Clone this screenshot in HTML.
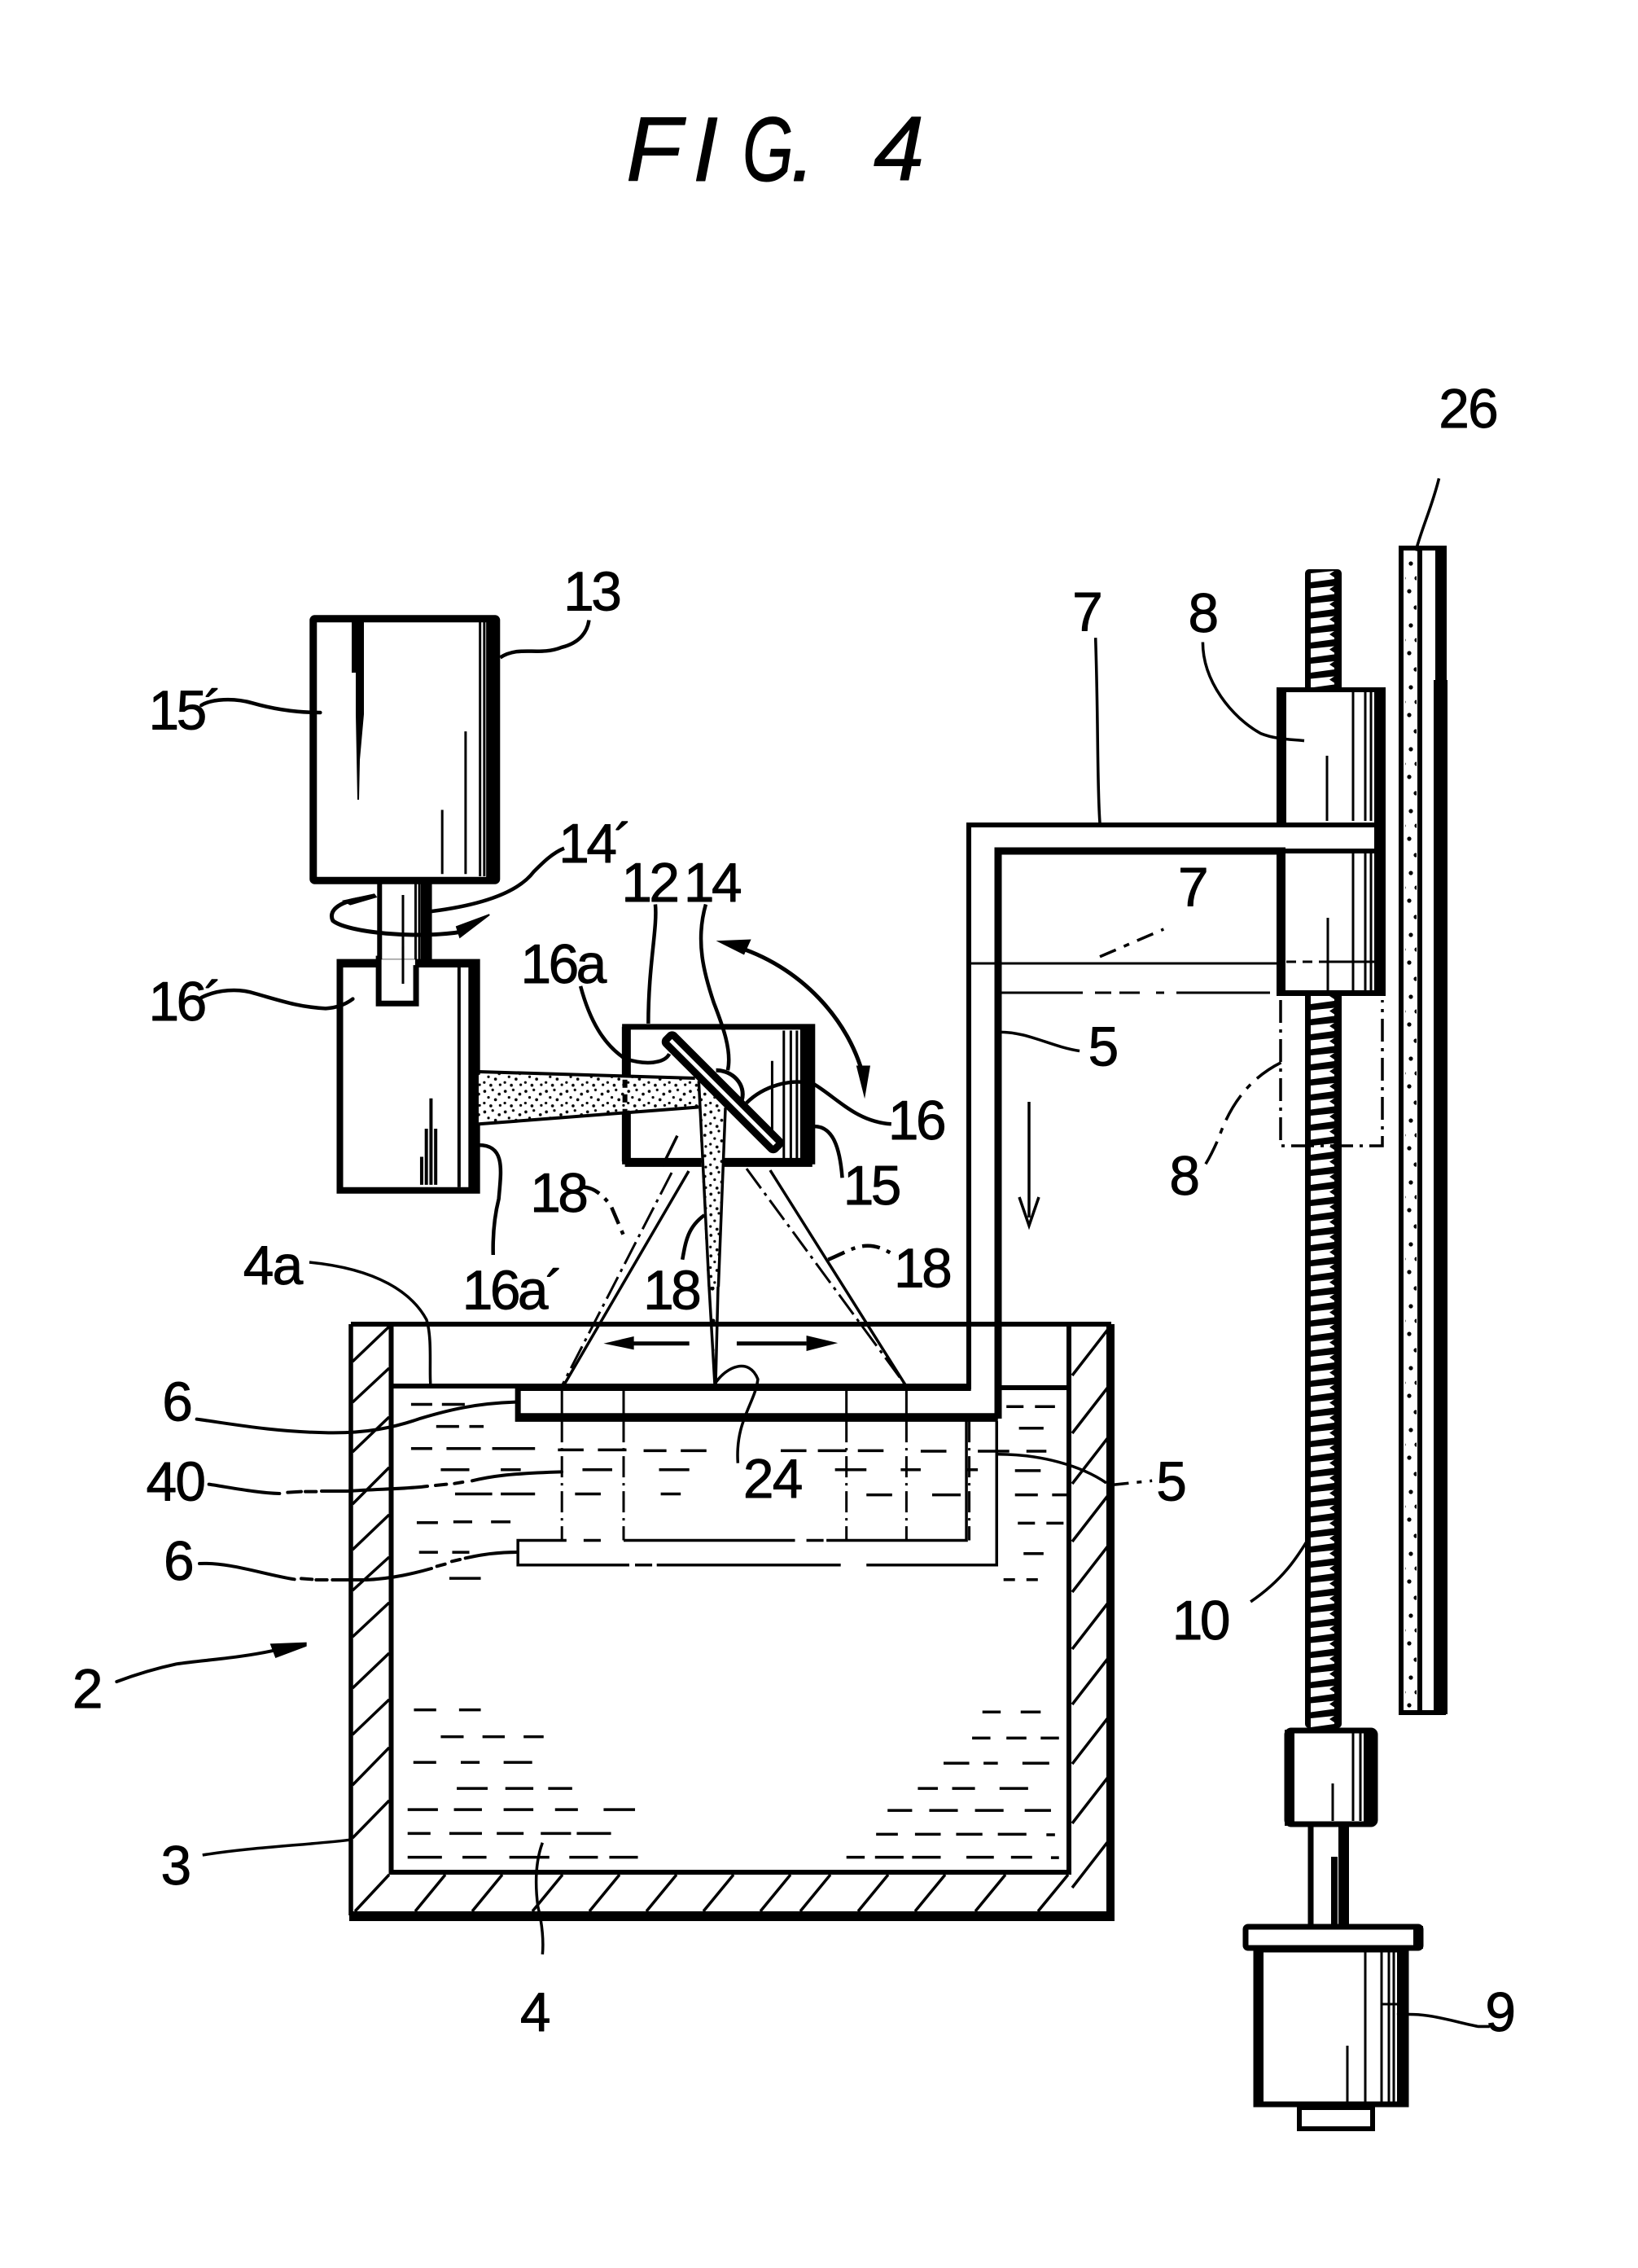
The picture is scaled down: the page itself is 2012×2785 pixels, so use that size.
<!DOCTYPE html>
<html><head><meta charset="utf-8"><title>FIG. 4</title>
<style>
html,body{margin:0;padding:0;background:#fff;width:2012px;height:2785px;overflow:hidden}
svg{display:block}
.z *{vector-effect:non-scaling-stroke}
.t text{font-family:"Liberation Sans",sans-serif;font-size:38px;text-anchor:middle;fill:#000;stroke:#000;stroke-width:.5px;stroke-linejoin:round;letter-spacing:-1px}
.t text.n{letter-spacing:-2px}
.f{font-family:"Liberation Sans",sans-serif;font-style:italic;font-size:112px;fill:#000;stroke:#000;stroke-width:1px;stroke-linejoin:round}
</style></head><body>
<svg width="2012" height="2785" viewBox="0 0 2012 2785" xmlns="http://www.w3.org/2000/svg">
<defs>
<pattern id="dots" width="44" height="44" patternUnits="userSpaceOnUse">
<circle cx="5" cy="6" r="3.2"/><circle cx="22" cy="3" r="2.8"/><circle cx="36" cy="12" r="3.2"/><circle cx="13" cy="19" r="2.8"/><circle cx="28" cy="24" r="3.2"/><circle cx="4" cy="31" r="2.8"/><circle cx="18" cy="37" r="3.2"/><circle cx="38" cy="36" r="2.8"/>
</pattern>
<pattern id="dots2" width="16" height="76" patternUnits="userSpaceOnUse">
<circle cx="5" cy="8" r="2.6"/><circle cx="12" cy="26" r="2.6"/><circle cx="3" cy="42" r="2.6"/><circle cx="11" cy="62" r="2.6"/>
</pattern>
<pattern id="thr" x="1603" y="700" width="45" height="18.5" patternUnits="userSpaceOnUse">
<rect width="45" height="18.5" fill="#000"/>
<polygon points="7,4 36,1 30,5 36,9 36,11 7,15" fill="#fff"/>
</pattern>
</defs>
<rect width="2012" height="2785" fill="#fff"/>

<!-- title -->
<text class="f" x="769" y="222">F</text>
<text class="f" x="851" y="222">I</text>
<text class="f" transform="translate(912 222) scale(.72 1)">G</text>
<text class="f" x="971" y="222">.</text>
<text class="f" x="1073" y="221">4</text>

<!-- screw -->
<rect x="1603" y="699" width="45" height="1423" rx="5" fill="url(#thr)"/>

<!-- tank, root px -->
<g fill="none" stroke="#000">
<path d="M431 1626H1365" stroke-width="6"/>
<path d="M431 1626V2352" stroke-width="5.5"/>
<path d="M1364 1626V2356" stroke-width="10"/>
<path d="M429 2353H1369" stroke-width="12"/>
<path d="M480.5 1626V2299H1313V1626" stroke-width="6"/>
<path d="M480 1702H1190M1226 1704H1313" stroke-width="6"/>
<g stroke-width="3.5">
<path d="M433 1672L478 1629M433 1722L478 1680M433 1783L478 1740M433 1847L478 1802M433 1903L478 1860M433 1953L478 1912M433 2010L478 1968M433 2073L478 2030M433 2130L478 2087M433 2192L478 2146M433 2257L478 2211"/>
<path d="M1362 1631L1317 1689M1362 1702L1317 1760M1362 1764L1317 1822M1362 1835L1317 1893M1362 1897L1317 1955M1362 1967L1317 2025M1362 2035L1317 2093M1362 2108L1317 2166M1362 2181L1317 2239M1362 2260L1317 2318"/>
<path d="M436 2347L478 2302M510 2347L547 2302M580 2347L617 2302M654 2347L691 2302M724 2347L761 2302M794 2347L831 2302M864 2347L901 2302M934 2347L971 2302M983 2347L1020 2302M1054 2347L1091 2302M1124 2347L1161 2302M1198 2347L1235 2302M1275 2347L1312 2302"/>
</g>
</g>

<!-- zoom-2 space: tank contents -->
<g class="z" transform="translate(380 1550) scale(.7018 .542)" fill="none" stroke="#000" stroke-width="3.5">
<path d="M178 322h37M232 322h40M1220 327h30M1270 327h35M222 372h40M280 372h25M1242 376h43M178 422h37M240 422h60M320 422h75M435 425h45M505 425h50M585 427h40M650 427h45M825 427h45M890 427h50M960 427h45M1070 428h45M1170 428h55M1255 428h35M230 470h50M335 470h35M478 470h52M612 470h53M920 470h55M1035 470h35M1150 470h20M1235 472h45M255 525h65M335 525h60M465 525h45M615 525h35M975 527h45M1090 527h50M1235 527h40M1300 527h30M188 590h37M252 588h33M318 588h34M1240 591h30M1290 591h30M192 657h33M250 657h30M1250 660h35M245 716h55M1215 719h20M1255 719h20"/>
<path d="M183 1014h39M262 1014h38M1178 1019h32M1245 1019h35M230 1075h40M303 1075h39M375 1075h35M1160 1078h32M1220 1078h35M1280 1078h32M182 1133h40M265 1133h33M340 1133h50M1110 1135h45M1180 1135h25M1248 1135h47M258 1192h54M343 1192h49M418 1192h42M1065 1192h35M1125 1192h40M1208 1192h50M172 1240h53M253 1240h49M340 1240h52M430 1240h40M515 1240h55M1012 1242h43M1085 1242h50M1165 1242h50M1252 1242h46M172 1294h40M245 1294h57M328 1294h47M405 1294h53M468 1294h60M992 1296h38M1060 1296h45M1132 1296h46M1205 1296h50M1290 1297h15M172 1348h60M268 1348h42M350 1348h70M455 1348h50M525 1348h50M940 1348h32M990 1348h50M1055 1348h50M1150 1348h48M1228 1348h37M1298 1349h14"/>
<!-- ghost platform -->
<path d="M365 655V630H450M480 630H510M550 630H850M870 630H900M905 630H1150V360" stroke-width="3.5"/>
<path d="M365 655V686H560M570 686H600M608 686H930M975 686H1203V360" stroke-width="3.5"/>
<path d="M442 360V630M550 360V630M940 360V630M1045 360V630M1155 360V630" stroke-width="3" stroke-dasharray="26 7 3 7"/>
<path d="M442 285V345M550 285V345M940 285V345M1045 285V345" stroke-width="3"/>
<!-- platform -->
<path d="M365 285V355H1205" stroke-width="7"/>
<path d="M365 285H1158" stroke-width="7"/>
<path d="M366 350H1205" stroke-width="9"/>
<!-- arrows -->
<path d="M565 184H665M748 184H870" stroke-width="5"/>
<path d="M515 184L568 168V198Z" fill="#000" stroke="none"/>
<path d="M925 183L870 166V201Z" fill="#000" stroke="none"/>
<!-- leaders -->
<path d="M0 0C120 15 180 70 205 130C215 170 210 240 212 275M408 1315C395 1360 395 1410 400 1460C408 1500 410 1540 408 1568M710 275C730 235 770 215 785 265C780 320 745 360 750 455M1205 435C1280 435 1350 460 1395 500M-187 1343C-100 1325 0 1320 75 1308" stroke-width="3.5"/>
<path d="M1400 505L1475 495" stroke-width="3.5" stroke-dasharray="24 10 6 10"/>
</g>

<!-- left leader group, 3x zoom space -->
<g class="z" transform="translate(150 1650) scale(.33333)" fill="none" stroke="#000" stroke-width="4" stroke-linecap="round">
<path d="M275 278C400 295 560 325 760 328C900 330 1000 310 1100 275C1200 245 1300 220 1450 215"/>
<path d="M320 518C400 530 500 550 580 552M610 548L660 545M675 545H715M735 543H830C950 535 1050 535 1125 525M1155 522L1195 518M1225 515L1255 510M1290 505C1350 490 1420 478 1620 472"/>
<path d="M285 810C400 805 520 850 635 868M660 865L700 868M715 870L755 870M775 870H900C1000 865 1080 845 1140 828M1160 820L1190 812M1215 802L1245 795M1265 790C1330 775 1400 768 1455 768"/>
<path d="M-20 1245C60 1215 130 1195 200 1180C300 1165 420 1160 560 1130"/>
<path d="M545 1105L680 1100V1115L565 1158Z" fill="#000" stroke="none"/>
</g>

<!-- arm 5 / 7 -->
<path d="M1190 1706V1013H1700" fill="none" stroke="#000" stroke-width="6"/>
<path d="M1226 1742V1045H1690" fill="none" stroke="#000" stroke-width="9"/>
<path d="M1190 1183H1568M1190 1183V1220" fill="none" stroke="#000" stroke-width="3"/>
<path d="M1226 1219H1330M1345 1219H1365M1375 1219H1400M1420 1219H1430M1445 1219H1560" fill="none" stroke="#000" stroke-width="3"/>
<path d="M1264 1353V1495M1252 1470L1264 1505L1276 1470" fill="none" stroke="#000" stroke-width="3.5"/>

<!-- left parts zoom-1 space -->
<g class="z" transform="translate(340 680) scale(.574)" stroke="#000" fill="none">
<!-- shaft -->
<rect x="220" y="702" width="108" height="170" fill="#fff" stroke="none"/>
<path d="M220 702V872" stroke-width="6"/>
<path d="M297 702V872M305 702V872" stroke-width="3"/>
<rect x="308" y="702" width="24" height="170" fill="#000" stroke="none"/>
<path d="M270 730V890" stroke-width="3"/>
<!-- box 13 -->
<rect x="78" y="139" width="392" height="560" rx="3" fill="#fff" stroke-width="9"/>
<rect x="448" y="140" width="26" height="556" fill="#000" stroke="none"/>
<path d="M435 145V690M444 145V690" stroke-width="3"/>
<path d="M404 380V685M354 548V685" stroke-width="3"/>
<!-- box 16' -->
<rect x="135" y="874" width="293" height="488" fill="#fff" stroke-width="8"/>
<path d="M390 880V1355" stroke-width="4"/>
<rect x="410" y="874" width="22" height="492" fill="#000" stroke="none"/>
<path d="M330 1165V1350M320 1230V1350M340 1230V1350M310 1290V1350" stroke-width="4"/>
<rect x="218" y="868" width="78" height="94" fill="#fff" stroke="none"/>
<path d="M218 860V962H298V880" stroke-width="7"/>
<path d="M218 878H135M298 878H428" stroke-width="8"/>
<path d="M270 840V920" stroke-width="3"/>
<!-- rotation arrow -->
<path d="M180 738C130 745 110 765 120 785C150 810 300 825 400 808" stroke-width="5"/>
<path d="M139 742L209 727L215 735L157 752Z" fill="#000" stroke="none"/>
<path d="M385 798L455 772L392 820Z" fill="#000" stroke="#000" stroke-width="2"/>
<!-- box 15 -->
<rect x="747" y="1014" width="398" height="288" fill="#fff" stroke="none"/>
<path d="M745 1012H1146V1300H745Z" stroke-width="7"/>
<path d="M745 1302H1146" stroke-width="11"/>
<path d="M748 1012V1300" stroke-width="11"/>
<rect x="1120" y="1012" width="28" height="292" fill="#000" stroke="none"/>
<path d="M1085 1020V1295M1100 1020V1295M1113 1020V1295" stroke-width="3"/>
<path d="M1060 1085V1240" stroke-width="3"/>
<!-- beam -->
<polygon points="432,1108 900,1125 945,1180 432,1220" fill="#fff" stroke="none"/>
<polygon points="432,1108 900,1125 945,1180 432,1220" fill="url(#dots)" stroke="none"/>
<path d="M432 1108L895 1122M432 1220L950 1180" stroke-width="4"/>
<path d="M745 1125V1195" stroke-width="6" stroke-dasharray="10 8"/>
<!-- bowl 14 -->
<path d="M940 1105C975 1105 1005 1135 995 1170" fill="#fff" stroke-width="5"/>
<!-- down beam -->
<polygon points="900,1128 960,1185 945,1568 922,1568" fill="#fff" stroke="none"/>
<polygon points="900,1128 960,1185 945,1568 922,1568" fill="url(#dots)" stroke="none"/>
<path d="M903 1128L925 1568M960 1185L945 1568" stroke-width="3.5"/>
<!-- mirror -->
<g transform="rotate(45 952 1150)">
<rect x="790" y="1138" width="330" height="24" rx="6" fill="#fff" stroke-width="9"/>
</g>
<!-- 18 -->
<path d="M857 1245L825 1310" stroke-width="3.5"/>
<!-- swing -->
<path d="M975 838C1120 880 1230 1000 1258 1130" stroke-width="5"/>
<path d="M940 828L1015 825L1000 858Z" fill="#000" stroke="none"/>
<path d="M1258 1166L1240 1095L1270 1095Z" fill="#000" stroke="none"/>
<!-- leaders -->
<path d="M478 222C520 195 560 220 610 200C650 190 665 165 668 142M330 765C450 750 520 720 550 680C570 660 590 640 615 630M810 750C815 800 795 880 795 1005M918 750C895 830 915 900 935 960C950 1000 975 1060 965 1105M650 925C670 1000 700 1050 745 1080C790 1095 830 1090 840 1070M1005 1175C1040 1140 1100 1120 1150 1135C1200 1165 1240 1215 1315 1220M1150 1225C1190 1225 1205 1270 1210 1335M432 1265C490 1265 480 1320 475 1380C465 1420 462 1460 463 1500M915 1415C880 1440 875 1470 868 1510" stroke-width="4.5"/>
<path d="M655 1355C680 1355 700 1375 715 1395L745 1465M1180 1510C1230 1490 1260 1460 1320 1500" stroke-width="4.5" stroke-dasharray="22 9 5 9"/>
</g>

<!-- wedge in box 13 -->
<polygon points="432,763 447,763 447,877 442,933 441,982 439,982 437,877 437,826 432,826" fill="#000"/>

<!-- 15', 16' leaders -->
<g class="z" transform="translate(160 800) scale(.33333)" fill="none" stroke="#000" stroke-width="4.5" stroke-linecap="round">
<path d="M262 198C300 175 380 170 450 190C520 210 600 225 700 225"/>
<path d="M262 1275C320 1245 400 1240 460 1260C550 1285 620 1310 720 1315C770 1312 800 1295 820 1280"/>
</g>

<!-- 18 ray lines real px -->
<g fill="none" stroke="#000">
<path d="M846 1438L692 1702M1113 1702L946 1437" stroke-width="3.5"/>
<path d="M825 1440L690 1702M917 1435L1113 1702" stroke-width="3" stroke-dasharray="30 7 4 7"/>
<path d="M871 1580L878 1700M882 1580L879 1700" stroke-width="3.5"/>
</g>
<polygon points="871,1580 882,1580 879,1700" fill="url(#dots2)"/>

<!-- bar 26 -->
<rect x="1721" y="673" width="52" height="1430" fill="#fff" stroke="#000" stroke-width="6"/>
<rect x="1726" y="680" width="14" height="1420" fill="url(#dots2)"/>
<rect x="1741" y="675" width="6" height="1428" fill="#000"/>
<rect x="1761" y="835" width="17" height="1270" fill="#000"/>
<rect x="1763" y="670" width="14" height="167" fill="#000"/>

<!-- nut 8 -->
<rect x="1568" y="844" width="134" height="166" fill="#fff" stroke="none"/>
<rect x="1568" y="1048" width="134" height="174" fill="#fff" stroke="none"/>
<g fill="#000">
<rect x="1568" y="844" width="12" height="166"/><rect x="1568" y="1048" width="11" height="174"/>
<rect x="1688" y="844" width="14" height="378"/>
<rect x="1568" y="844" width="134" height="6"/><rect x="1568" y="1216" width="134" height="7"/>
</g>
<g fill="none" stroke="#000">
<path d="M1630 928V1008M1631 1127V1216M1662 850V1008M1662 1048V1216M1677 850V1008M1677 1048V1216M1684 850V1008M1684 1048V1216" stroke-width="3"/>
<path d="M1580 1181H1592M1600 1181H1612M1620 1181H1688" stroke-width="3"/>
</g>
<rect x="1579" y="1016" width="109" height="26" fill="#fff"/>
<!-- ghost nut -->
<path d="M1573 1228V1407H1698V1228" fill="none" stroke="#000" stroke-width="3.5" stroke-dasharray="28 8 4 8"/>

<!-- bottom coupling/motor -->
<path d="M1610 2243V2363" stroke="#000" stroke-width="7" fill="none"/>
<rect x="1635" y="2280" width="8" height="83" fill="#000"/>
<rect x="1644" y="2243" width="13" height="120" fill="#000"/>
<rect x="1581" y="2125" width="108" height="115" rx="5" fill="#fff" stroke="#000" stroke-width="7"/>
<rect x="1578" y="2124" width="12" height="118" fill="#000"/>
<rect x="1675" y="2128" width="16" height="112" fill="#000"/>
<path d="M1662 2128V2236M1671 2128V2236M1637 2190V2236" stroke="#000" stroke-width="3" fill="none"/>
<rect x="1530" y="2366" width="215" height="26" rx="3" fill="#fff" stroke="#000" stroke-width="7"/>
<rect x="1736" y="2365" width="12" height="28" fill="#000"/>
<rect x="1543" y="2394" width="184" height="190" fill="#fff" stroke="#000" stroke-width="7"/>
<rect x="1540" y="2394" width="12" height="192" fill="#000"/>
<rect x="1716" y="2394" width="14" height="192" fill="#000"/>
<path d="M1677 2394V2582M1697 2394V2582M1706 2394V2582M1712 2394V2582M1655 2512V2582" stroke="#000" stroke-width="3" fill="none"/>
<rect x="1596" y="2588" width="90" height="26" fill="#fff" stroke="#000" stroke-width="6"/>
<path d="M1697 2461H1720" stroke="#000" stroke-width="3"/>

<!-- right-hand leaders in thumb coords -->
<g transform="scale(1.78)" fill="none" stroke="#000" stroke-width="2">
<path d="M993 330C988 350 982 362 977 380"/>
<path d="M756 440C758 500 757 540 759 568"/>
<path d="M690 712C710 712 725 722 745 725"/>
<path d="M863 1105C885 1090 895 1075 905 1058"/>
<path d="M964 1390C985 1388 1000 1394 1020 1398H1028"/>
<path d="M830 443C830 470 850 495 870 506C880 510 890 510 900 511"/>
<path d="M759 660L803 641" stroke-dasharray="12 6 4 6"/>
<path d="M884 733C860 745 848 765 841 785C838 792 835 798 832 803" stroke-dasharray="20 6 4 6"/>
</g>

<!-- labels -->
<g class="t" transform="translate(0 -3.5) scale(1.78)">
<text x="1013" y="297">26</text>
<text class="n" x="408" y="423">13</text>
<text class="n" x="127" y="505">15´</text>
<text class="n" x="410" y="597">14´</text>
<text class="n" x="448" y="624">12</text>
<text class="n" x="491" y="624">14</text>
<text class="n" x="388" y="680">16a</text>
<text class="n" x="127" y="706">16´</text>
<text x="750" y="437">7</text>
<text x="830" y="438">8</text>
<text x="823" y="627">7</text>
<text x="761" y="737">5</text>
<text class="n" x="632" y="788">16</text>
<text class="n" x="601" y="833">15</text>
<text class="n" x="385" y="838">18</text>
<text class="n" x="463" y="905">18</text>
<text class="n" x="636" y="890">18</text>
<text class="n" x="353" y="905">16a´</text>
<text x="188" y="888">4a</text>
<text x="817" y="826">8</text>
<text x="122" y="982">6</text>
<text x="121" y="1037">40</text>
<text x="533" y="1035">24</text>
<text x="808" y="1037">5</text>
<text x="123" y="1092">6</text>
<text x="60" y="1180">2</text>
<text class="n" x="828" y="1133">10</text>
<text x="121" y="1302">3</text>
<text x="369" y="1403">4</text>
<text x="1035" y="1403">9</text>
</g>
</svg>
</body></html>
